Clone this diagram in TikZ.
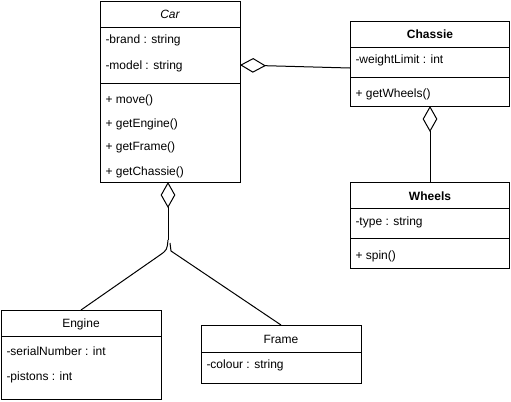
\documentclass[tikz,border=0pt]{standalone}
\usepackage{fontspec}
\setmainfont{Liberation Sans}
\usetikzlibrary{fit,arrows.meta}
\begin{document}
\begin{tikzpicture}[x=0.75pt,y=-0.75pt,line width=0.75pt,
  font=\fontsize{9}{11}\selectfont,
  box/.style={draw=black,fill=white,inner sep=0pt,fit={#1}},
  attr/.style={anchor=west,inner sep=0pt},
  ttl/.style={inner sep=0pt},
  agg/.style={-{Diamond[open,length=19.5pt,width=11pt,line width=0.75pt]}},
  conn/.style={draw=black,line width=0.75pt}]
\useasboundingbox (0,0) rectangle (511,401);
% Car
\node[box={(100,1) (240,182)}] (car) {};
\draw (100,27) -- (240,27);
\draw (100,83) -- (240,83);
\node[ttl] (carT) at (170,14) {\itshape Car};
\node[attr] (carA1) at (105,40) {-brand : string};
\node[attr] (carA2) at (105,66) {-model : string};
\node[attr] (carM1) at (105,100) {+ move()};
\node[attr] (carM2) at (105,124) {+ getEngine()};
\node[attr] (carM3) at (105,147) {+ getFrame()};
\node[attr] (carM4) at (105,172) {+ getChassie()};
% Chassie
\node[box={(350,21) (509,106)}] (ch) {};
\draw (350,47) -- (509,47);
\draw (350,77) -- (509,77);
\node[ttl] (chT) at (430,34) {\bfseries Chassie};
\node[attr] (chA1) at (355,60) {-weightLimit : int};
\node[attr] (chM1) at (355,94) {+ getWheels()};
% Wheels
\node[box={(350,182) (509,268)}] (wh) {};
\draw (350,208) -- (509,208);
\draw (350,238) -- (509,238);
\node[ttl] (whT) at (430,196) {\bfseries Wheels};
\node[attr] (whA1) at (355,222) {-type : string};
\node[attr] (whM1) at (355,256) {+ spin()};
% Engine
\node[box={(1,310) (161,399)}] (en) {};
\draw (1,336) -- (161,336);
\node[ttl] (enT) at (81,324) {Engine};
\node[attr] (enA1) at (6,351) {-serialNumber : int};
\node[attr] (enA2) at (6,377) {-pistons : int};
% Frame
\node[box={(201,325) (361,383)}] (fr) {};
\draw (201,352) -- (361,352);
\node[ttl] (frT) at (281,339) {Frame};
\node[attr] (frA1) at (206,365) {-colour : string};
% connector points
\coordinate (carR) at (240,65);
\coordinate (chL) at (350,68);
\coordinate (carB) at (168,182);
\coordinate (chB) at (430,106);
\coordinate (whN) at (430,182);
\coordinate (enN) at (81,310);
\coordinate (frN) at (281,325);
\coordinate (jn) at (168,240);
% connectors
\draw[conn,agg] (chL) -- (carR);
\draw[conn,agg] (whN) -- (chB);
\draw[conn,agg] (jn) -- (carB);
\draw[conn] (enN) -- (160,255) .. controls (167,250) .. (jn);
\draw[conn] (frN) -- (171,251) -- (170,243);
\end{tikzpicture}
\end{document}
